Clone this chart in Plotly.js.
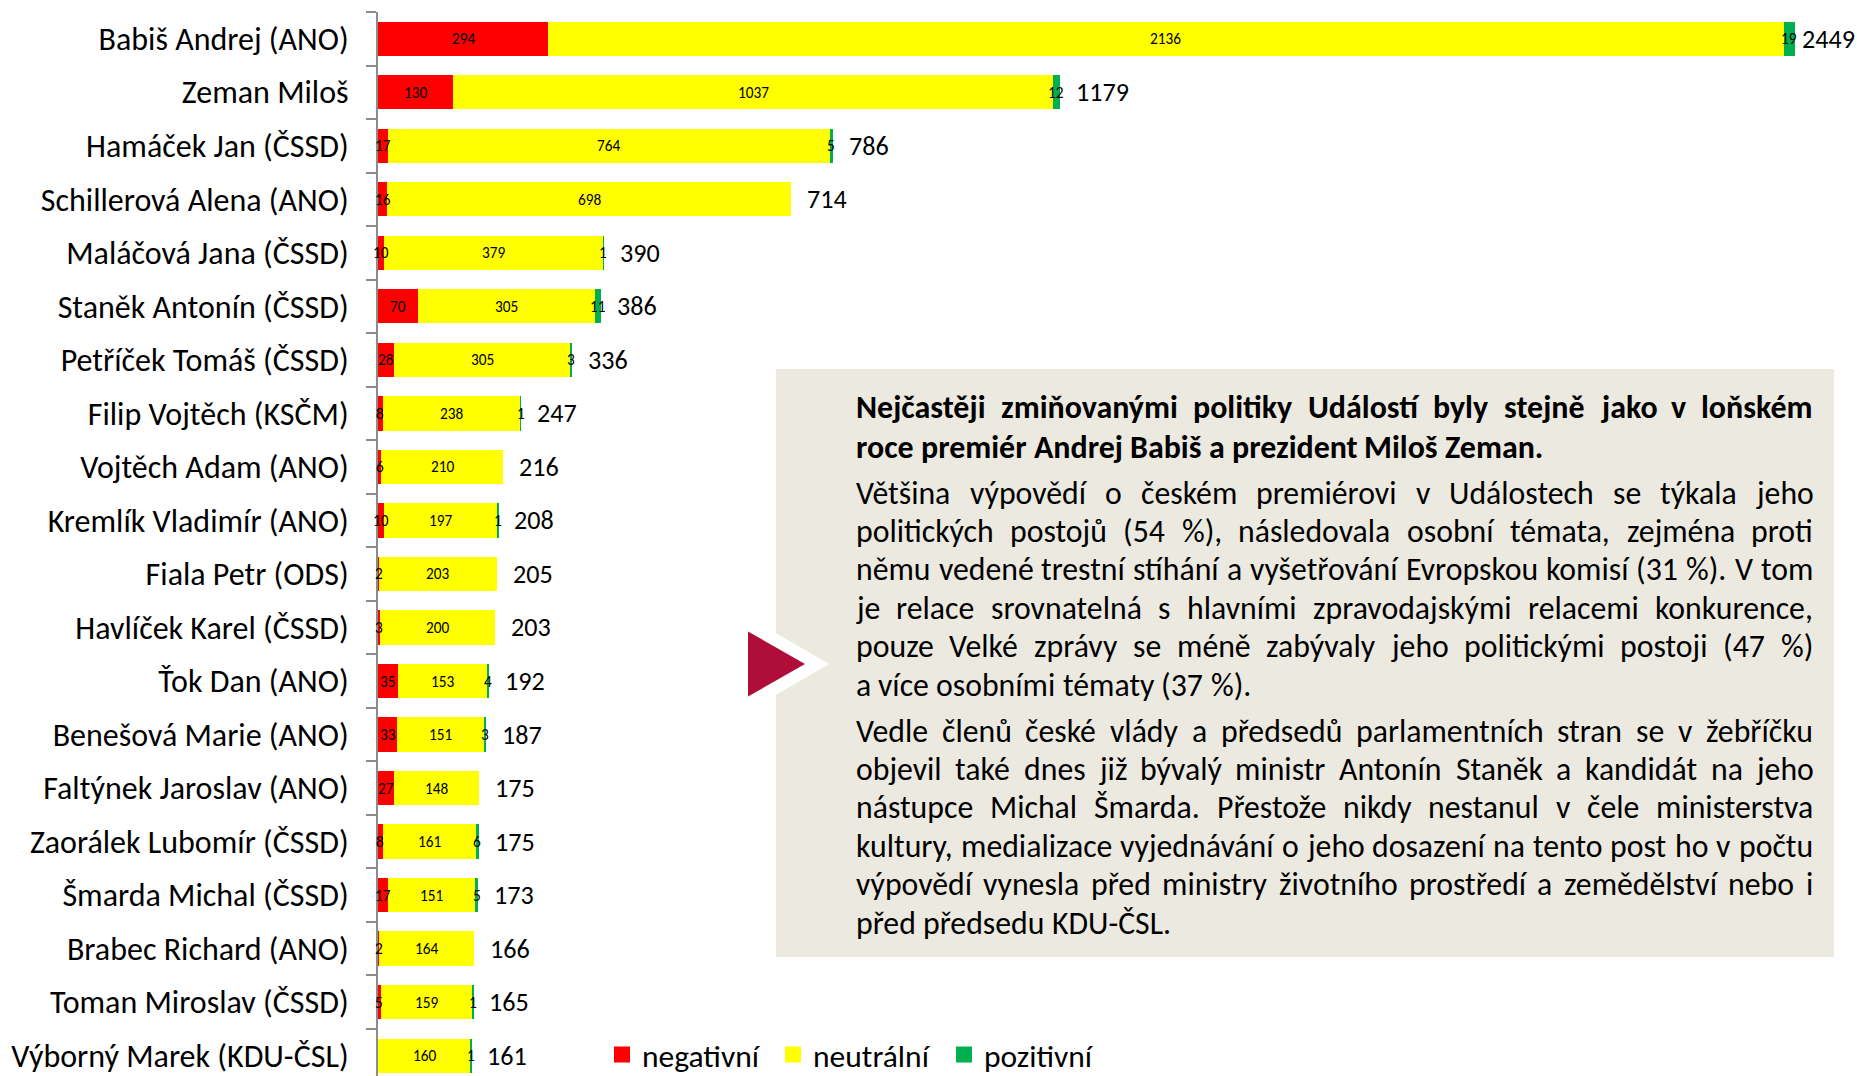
<!DOCTYPE html>
<html>
<head>
<meta charset="utf-8">
<script src="https://cdn.plot.ly/plotly-3.0.1.min.js"></script>
<style>html,body{margin:0;padding:0;background:#fff;}#chart{width:1857px;height:1076px;}</style>
</head>
<body>
<div id="chart"></div>
<script>
// ---------- DATA ----------
const politicians = [
  'Babiš Andrej (ANO)', 'Zeman Miloš', 'Hamáček Jan (ČSSD)', 'Schillerová Alena (ANO)',
  'Maláčová Jana (ČSSD)', 'Staněk Antonín (ČSSD)', 'Petříček Tomáš (ČSSD)', 'Filip Vojtěch (KSČM)',
  'Vojtěch Adam (ANO)', 'Kremlík Vladimír (ANO)', 'Fiala Petr (ODS)', 'Havlíček Karel (ČSSD)',
  'Ťok Dan (ANO)', 'Benešová Marie (ANO)', 'Faltýnek Jaroslav (ANO)', 'Zaorálek Lubomír (ČSSD)',
  'Šmarda Michal (ČSSD)', 'Brabec Richard (ANO)', 'Toman Miroslav (ČSSD)', 'Výborný Marek (KDU-ČSL)'
];
const negativni = [294, 130, 17, 16, 10, 70, 28, 8, 6, 10, 2, 3, 35, 33, 27, 8, 17, 2, 5, 0];
const neutralni = [2136, 1037, 764, 698, 379, 305, 305, 238, 210, 197, 203, 200, 153, 151, 148, 161, 151, 164, 159, 160];
const pozitivni = [19, 12, 5, 0, 1, 11, 3, 1, 0, 1, 0, 0, 4, 3, 0, 6, 5, 0, 1, 1];
const seriesNames = ['negativní', 'neutrální', 'pozitivní'];

const headingLines = [
  'Nejčastěji zmiňovanými politiky Událostí byly stejně jako v loňském',
  'roce premiér Andrej Babiš a prezident Miloš Zeman.'
];
const paragraph1 = [
  'Většina výpovědí o českém premiérovi v Událostech se týkala jeho',
  'politických postojů (54 %), následovala osobní témata, zejména proti',
  'němu vedené trestní stíhání a vyšetřování Evropskou komisí (31 %). V tom',
  'je relace srovnatelná s hlavními zpravodajskými relacemi konkurence,',
  'pouze Velké zprávy se méně zabývaly jeho politickými postoji (47 %)',
  'a více osobními tématy (37 %).'
];
const paragraph2 = [
  'Vedle členů české vlády a předsedů parlamentních stran se v žebříčku',
  'objevil také dnes již bývalý ministr Antonín Staněk a kandidát na jeho',
  'nástupce Michal Šmarda. Přestože nikdy nestanul v čele ministerstva',
  'kultury, medializace vyjednávání o jeho dosazení na tento post ho v počtu',
  'výpovědí vynesla před ministry životního prostředí a zemědělství nebo i',
  'před předsedu KDU-ČSL.'
];

// ---------- STYLE / LAYOUT ----------
const FONT = "Carlito, Calibri, 'Liberation Sans Narrow', 'DejaVu Sans Condensed', Roboto, sans-serif";
const COLORS = ['#FF0000', '#FFFF00', '#00B050'];
const W = 1857, H = 1076, ML = 378, MR = 0, MT = 12, MB = 0;
const plotW = W - ML - MR, plotH = H - MT - MB;
const XMAX = 2557;

const ctx = document.createElement('canvas').getContext('2d');
function tw(text, size, bold) {
  ctx.font = (bold ? 'bold ' : '') + size + 'px ' + FONT;
  return ctx.measureText(text).width;
}
const catSize = 28 * 308 / tw('Schillerová Alena (ANO)', 28);
const totalSize = 26 * 53 / tw('2449', 26);
const segSize = 15 * 31 / tw('2136', 15);
const legSize = 28 * 117 / tw('negativní', 28);
const bodySize = 26 * (396 + 314) / (tw('a více osobními tématy (37 %).', 26) + tw('před předsedu KDU-ČSL.', 26));
const headSize = 26 * 688 / tw('roce premiér Andrej Babiš a prezident Miloš Zeman.', 26, true);

const px2x = px => (px - ML) / plotW;
const py2y = py => 1 - (py - MT) / plotH;

const series = [negativni, neutralni, pozitivni];
const totals = politicians.map((_, i) => negativni[i] + neutralni[i] + pozitivni[i]);

const traces = series.map((vals, s) => ({
  type: 'bar', orientation: 'h', name: seriesNames[s],
  y: politicians, x: vals, legendgroup: seriesNames[s], showlegend: false,
  marker: { color: COLORS[s], line: { width: 0 } },
  hoverinfo: 'x+y+name'
}));

// legend entries (square swatches matching the bar series)
series.forEach((vals, s) => {
  traces.push({
    type: 'scatter', mode: 'markers', name: seriesNames[s], legendgroup: seriesNames[s],
    x: [null], y: [null], showlegend: true, hoverinfo: 'skip',
    marker: { symbol: 'square', size: 16, color: COLORS[s], line: { width: 0 } }
  });
});

const annotations = [];

// segment value labels (centred in each stacked segment)
politicians.forEach((p, i) => {
  let cum = 0;
  series.forEach(vals => {
    const v = vals[i];
    if (v > 0) {
      annotations.push({
        x: cum + v / 2, y: p, xref: 'x', yref: 'y', text: String(v),
        showarrow: false, xanchor: 'center', yanchor: 'middle', borderpad: 0, borderwidth: 0,
        font: { family: FONT, size: segSize, color: '#000' }
      });
    }
    cum += v;
  });
});

// totals
politicians.forEach((p, i) => {
  const endPx = ML + totals[i] / XMAX * plotW;
  const w = tw(String(totals[i]), totalSize);
  const shift = Math.min(16, W - endPx - w - 2);
  annotations.push({
    x: totals[i], y: p, xref: 'x', yref: 'y', text: String(totals[i]),
    showarrow: false, xanchor: 'left', yanchor: 'middle', xshift: shift,
    borderpad: 0, borderwidth: 0,
    font: { family: FONT, size: totalSize, color: '#000' }
  });
});

// justified text block
const TEXT_L = 856, TEXT_W = 957;
function addLines(lines, yStart, lineH, size, bold) {
  lines.forEach((line, li) => {
    const words = line.split(' ');
    const widths = words.map(w => tw(w, size, bold));
    const sum = widths.reduce((a, b) => a + b, 0);
    const last = li === lines.length - 1;
    const gap = last ? tw(' ', size, bold) : (TEXT_W - sum) / (words.length - 1);
    let x = TEXT_L;
    const yc = yStart + li * lineH;
    words.forEach((w, k) => {
      annotations.push({
        x: px2x(x), y: py2y(yc), xref: 'paper', yref: 'paper', text: w,
        showarrow: false, xanchor: 'left', yanchor: 'middle', borderpad: 0, borderwidth: 0,
        font: { family: FONT, size: size, color: '#000', weight: bold ? 700 : 400 }
      });
      x += widths[k] + gap;
    });
  });
}
addLines(headingLines, 408, 39, headSize, true);
addLines(paragraph1, 493, 38.4, bodySize, false);
addLines(paragraph2, 731, 38.4, bodySize, false);

const shapes = [
  { type: 'rect', xref: 'paper', yref: 'paper', x0: px2x(776), x1: px2x(1834), y0: py2y(957), y1: py2y(369),
    fillcolor: '#ECEAE0', line: { width: 0 }, layer: 'below' },
  { type: 'path', xref: 'paper', yref: 'paper',
    path: `M${px2x(773)},${py2y(631.5)} L${px2x(829)},${py2y(664)} L${px2x(773)},${py2y(696.5)} Z`,
    fillcolor: '#FFFFFF', line: { width: 0 }, layer: 'above' },
  { type: 'path', xref: 'paper', yref: 'paper',
    path: `M${px2x(748)},${py2y(631.5)} L${px2x(805)},${py2y(664)} L${px2x(748)},${py2y(696.5)} Z`,
    fillcolor: '#AF0D3A', line: { width: 0 }, layer: 'above' }
];

const layout = {
  width: W, height: H,
  margin: { l: ML, r: MR, t: MT, b: MB, pad: 0, autoexpand: false },
  paper_bgcolor: '#FFFFFF', plot_bgcolor: '#FFFFFF',
  barmode: 'stack', bargap: 0.36,
  font: { family: FONT, color: '#000' },
  xaxis: { range: [0, XMAX], showgrid: false, zeroline: false, showline: false, showticklabels: false, ticks: '', fixedrange: true },
  yaxis: {
    type: 'category', range: [19.38, -0.5], showgrid: false, zeroline: false,
    showline: true, linecolor: '#8C8C8C', linewidth: 2,
    ticks: 'outside', tickson: 'boundaries', ticklen: 10, tickwidth: 2, tickcolor: '#8C8C8C',
    ticklabelstandoff: 21,
    tickfont: { family: FONT, size: catSize, color: '#000' }, automargin: false
  },
  showlegend: true,
  legend: {
    orientation: 'h', x: px2x(602), y: py2y(1055), xanchor: 'left', yanchor: 'middle',
    font: { family: FONT, size: legSize, color: '#000' }, bgcolor: 'rgba(0,0,0,0)',
    traceorder: 'normal', entrywidth: 126, entrywidthmode: 'pixels', itemclick: false
  },
  shapes: shapes,
  annotations: annotations
};

Plotly.newPlot('chart', traces, layout, { displayModeBar: false, responsive: false });
</script>
</body>
</html>
